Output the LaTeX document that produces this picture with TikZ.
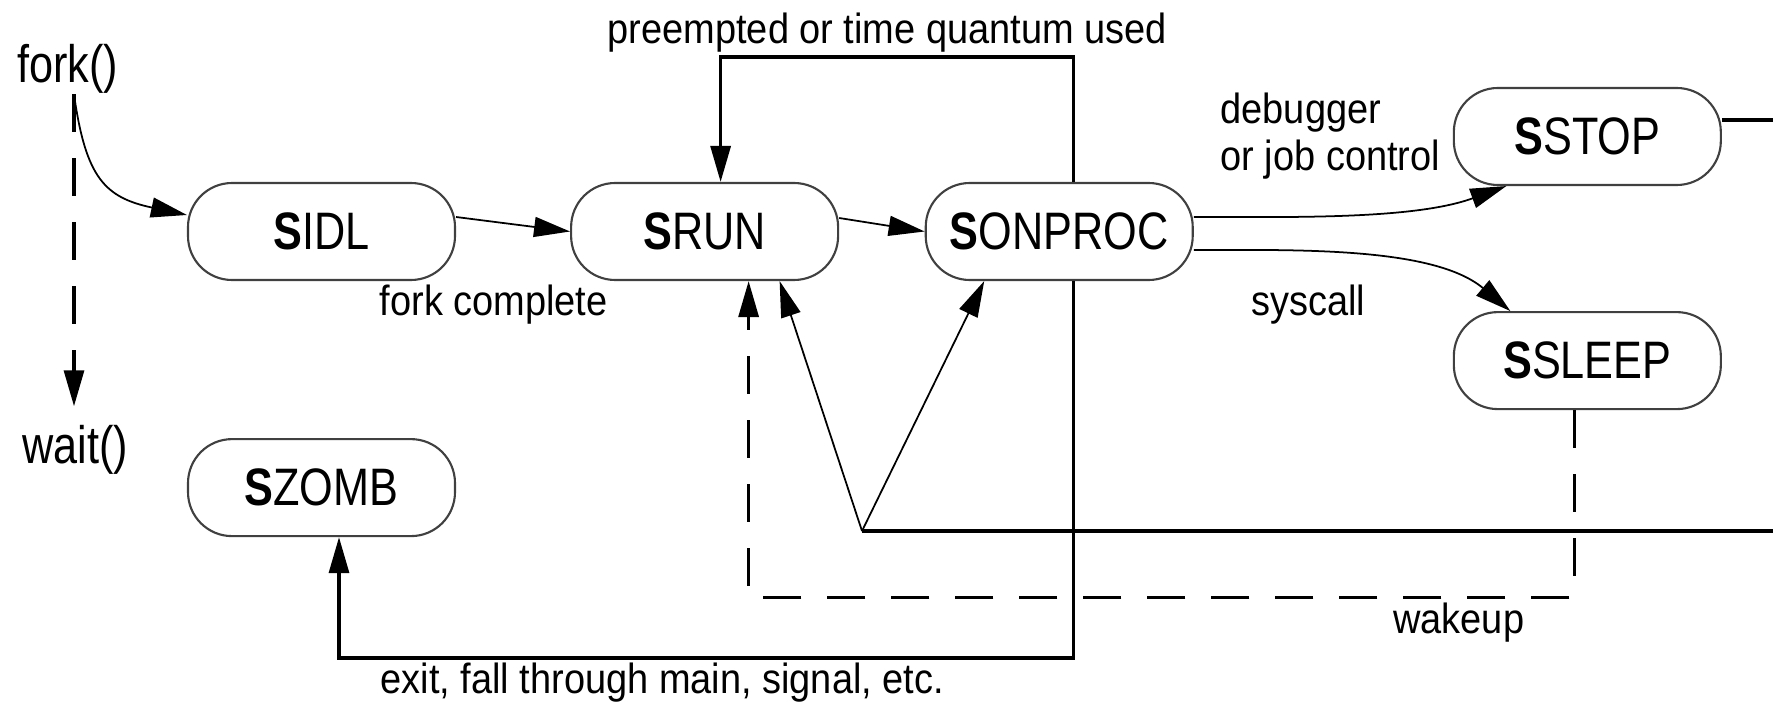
\documentclass[tikz,border=0pt]{standalone}
\usepackage{fontspec}
\setmainfont{Liberation Sans}[FakeStretch=0.9]
\newfontfamily\statefont{Liberation Sans}[FakeStretch=0.82]
\usetikzlibrary{arrows.meta, positioning}

\begin{document}
\begin{tikzpicture}[
  proc/.style={rectangle, draw=black!75, line width=0.6pt, fill=white, rounded corners=0.44cm,
    minimum width=2.67cm, minimum height=0.97cm, inner sep=0pt,
    font=\statefont\fontsize{15}{18}\selectfont},
  call/.style={inner sep=0pt, font=\statefont\fontsize{15}{18}\selectfont},
  note/.style={inner sep=0pt, font=\fontsize{12}{13.4}\selectfont, align=left},
  flow/.style={line width=0.5pt, ->},
  wire/.style={line width=0.9pt},
  wake/.style={line width=0.9pt, dash pattern=on 0.38cm off 0.26cm},
  >={Triangle[length=0.36cm, width=0.2cm]},
  node distance=0.25cm,
]
  \useasboundingbox (0,0) rectangle (17.73,7.01);

  \node[proc] (sidl) at (3.215,4.695) {\textbf{S}IDL};
  \node[proc, right=1.14cm of sidl] (srun) {\textbf{S}RUN};
  \node[proc, right=0.855cm of srun] (sonproc) {\textbf{S}ONPROC};
  \node[proc, right=2.59cm of sonproc, yshift=0.95cm] (sstop) {\textbf{S}STOP};
  \node[proc, below=1.25cm of sstop] (ssleep) {\textbf{S}SLEEP};
  \node[proc, below=1.57cm of sidl] (szomb) {\textbf{S}ZOMB};

  \node[call] (fork) at (0.675,6.32) {fork()};
  \node[call, below=3.3cm of fork, xshift=0.075cm] (wait) {wait()};
  \coordinate (forkfoot) at ([xshift=0.065cm]fork.south);
  \coordinate (vtx) at (8.62,1.70);

  % creation
  \draw[wake, ->, shorten >=0.18cm] (forkfoot) -- (forkfoot |- wait.north);
  \draw[flow] (forkfoot) to[out=-82, in=168, looseness=1.3] ([yshift=0.165cm]sidl.west);
  \draw[flow] ([yshift=0.145cm]sidl.east) -- (srun.west);
  \node[note, below right=0.03cm and 0.575cm of sidl.south] (forkdone) {fork complete};
  \draw[flow] ([yshift=0.135cm]srun.east) -- (sonproc.west);

  % preemption
  \draw[wire, ->] ([xshift=0.145cm]sonproc.north) -- ++(0,1.25)
    -| node[note, pos=0.264, above=0.03cm] (preempt) {preempted or time quantum used}
    ([xshift=0.16cm]srun.north);

  % stop and sleep
  \draw[flow] ([yshift=0.145cm]sonproc.east) to[out=0, in=200, looseness=0.8] ([xshift=-0.81cm]sstop.south);
  \node[note, left=0.12cm of sstop] (debug) {debugger\\or job control};
  \draw[flow] ([yshift=-0.185cm]sonproc.east) to[out=0, in=140, looseness=0.8] ([xshift=-0.77cm]ssleep.north);
  \node[note, below right=0.03cm and 0.57cm of sonproc.south east] (sys) {syscall};

  % back to running
  \draw[wire] ([yshift=0.165cm]sstop.east) -- ++(0.565,0) |- (vtx);
  \draw[flow] (vtx) -- ([xshift=0.75cm]srun.south);
  \draw[flow] (vtx) -- ([xshift=-0.75cm]sonproc.south);
  \draw[wake, ->] ([xshift=-0.13cm]ssleep.south) -- ++(0,-1.87)
    -| node[note, pos=0.07, below=0.04cm] (wakeup) {wakeup}
    ([xshift=0.44cm]srun.south);

  % exit
  \draw[wire, ->] ([xshift=0.145cm]sonproc.south) -- ++(0,-3.77)
    -| node[note, pos=0.28, below=0.03cm] (exit) {exit, fall through main, signal, etc.}
    ([xshift=0.175cm]szomb.south);
\end{tikzpicture}
\end{document}
